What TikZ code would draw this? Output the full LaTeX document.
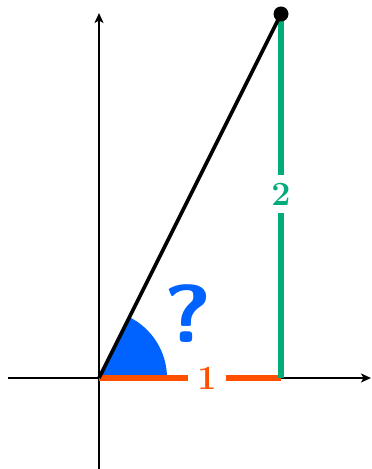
\documentclass[tikz,border=0pt]{standalone}
\usetikzlibrary{arrows.meta}
\definecolor{myblue}{RGB}{0,98,255}
\definecolor{myorange}{RGB}{255,80,0}
\definecolor{mygreen}{RGB}{0,172,122}
\begin{document}
\begin{tikzpicture}[x=1pt,y=1pt,
  axis/.style={line width=1.5pt,-{Stealth[length=10pt,width=9pt,inset=2.5pt]}},
  numlabel/.style={fill=white,font=\fontsize{34}{34}\selectfont\bfseries,inner xsep=9pt,inner ysep=8pt}]
\useasboundingbox (0,0) rectangle (372,469);
\coordinate (O) at (99,91);
\coordinate (F) at (281,91);
\coordinate (P) at (281,455);
\coordinate (xs) at (8,91);
\coordinate (xe) at (371,91);
\coordinate (ys) at (99,0);
\coordinate (ye) at (99,456);
\draw[axis] (xs) -- (xe);
\draw[axis] (ys) -- (ye);
\fill[myblue] (O) -- ++(0:68) arc[start angle=0,end angle=63.435,radius=68] -- cycle;
\draw[myorange,line width=6.5pt] (O) -- (F);
\draw[mygreen,line width=6.5pt] (F) -- (P);
\draw[line width=3.8pt] (O) -- (P);
\fill (P) circle[radius=7.5];
\node[numlabel,text=myorange] (one) at (207,91) {1};
\node[numlabel,text=mygreen] (two) at (281,275) {2};
\node[text=myblue,font=\fontsize{82}{82}\selectfont\sffamily\bfseries,xscale=1.15] (q) at (188,155) {?};
\end{tikzpicture}
\end{document}
